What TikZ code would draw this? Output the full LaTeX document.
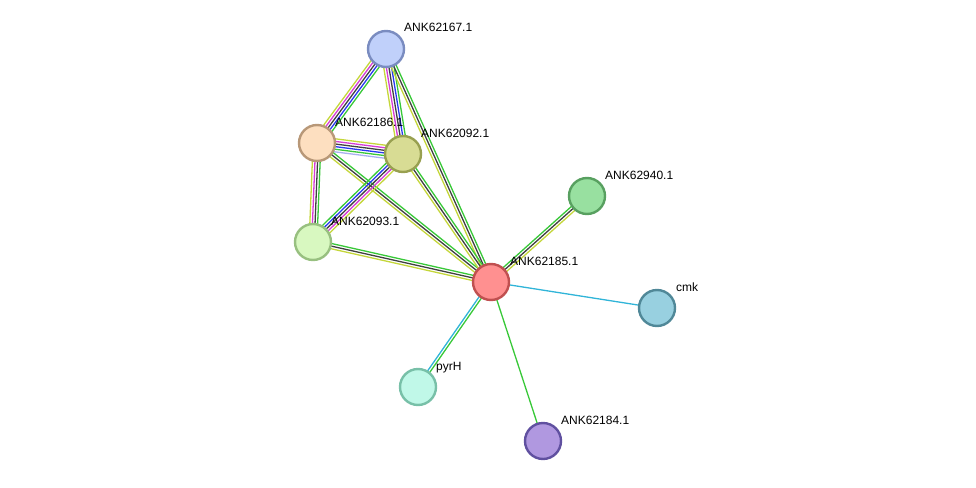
\documentclass[tikz,border=0pt]{standalone}
\usepackage{fontspec}
\setmainfont{Liberation Sans}
\usetikzlibrary{calc}
\pgfdeclarelayer{bg}
\pgfsetlayers{bg,main}
\definecolor{cY}{HTML}{C4D63A}
\definecolor{cM}{HTML}{D63CD6}
\definecolor{cK}{HTML}{404040}
\definecolor{cB}{HTML}{2838F0}
\definecolor{cG}{HTML}{38C838}
\definecolor{cL}{HTML}{A8B0F0}
\definecolor{cC}{HTML}{30B4D8}
\tikzset{
  prot/.style={circle, minimum size=36pt, inner sep=0pt, line width=2.4pt},
  lbl/.style={anchor=base west, font=\fontsize{12pt}{14pt}\selectfont, inner sep=0pt},
}
\newcommand\medge[3]{%
  \foreach \c [count=\i] in {#3} {\xdef\ncount{\i}}%
  \foreach \c [count=\i] in {#3} {%
    \pgfmathsetmacro\off{(\i-(\ncount+1)/2)*2.6}%
    \draw[\c, line width=1.3pt] ($(#1.center)!\off pt!90:(#2.center)$) -- ($(#2.center)!\off pt!-90:(#1.center)$);
  }}
\begin{document}
\begin{tikzpicture}[x=1pt,y=-1pt]
\useasboundingbox (0,0) rectangle (976,487);
\node[prot, fill={rgb,255:red,192;green,208;blue,250}, draw={rgb,255:red,122;green,140;blue,192}] (n167) at (386,49) {};
\node[prot, fill={rgb,255:red,253;green,223;blue,192}, draw={rgb,255:red,184;green,152;blue,120}] (n186) at (317,143) {};
\node[prot, fill={rgb,255:red,216;green,220;blue,148}, draw={rgb,255:red,152;green,160;blue,80}] (n092) at (403,154) {};
\node[prot, fill={rgb,255:red,216;green,248;blue,192}, draw={rgb,255:red,152;green,192;blue,128}] (n093) at (313,242) {};
\node[prot, fill={rgb,255:red,255;green,144;blue,144}, draw={rgb,255:red,192;green,80;blue,80}] (n185) at (491,282) {};
\node[prot, fill={rgb,255:red,152;green,224;blue,160}, draw={rgb,255:red,88;green,160;blue,96}] (n940) at (587,196) {};
\node[prot, fill={rgb,255:red,152;green,208;blue,224}, draw={rgb,255:red,80;green,136;blue,152}] (ncmk) at (657,308) {};
\node[prot, fill={rgb,255:red,192;green,248;blue,232}, draw={rgb,255:red,120;green,192;blue,168}] (npyr) at (418,387) {};
\node[prot, fill={rgb,255:red,176;green,152;blue,224}, draw={rgb,255:red,96;green,80;blue,160}] (n184) at (543,441) {};

\node[lbl] (l167) at ($(n167.center)+(18,-17)$) {ANK62167.1};
\node[lbl] (l186) at ($(n186.center)+(18,-17)$) {ANK62186.1};
\node[lbl] (l092) at ($(n092.center)+(18,-17)$) {ANK62092.1};
\node[lbl] (l093) at ($(n093.center)+(18,-17)$) {ANK62093.1};
\node[lbl] (l185) at ($(n185.center)+(19,-17)$) {ANK62185.1};
\node[lbl] (l940) at ($(n940.center)+(18,-17)$) {ANK62940.1};
\node[lbl] (lcmk) at ($(ncmk.center)+(19,-17)$) {cmk};
\node[lbl] (lpyr) at ($(npyr.center)+(18,-17)$) {pyrH};
\node[lbl] (l184) at ($(n184.center)+(18,-17)$) {ANK62184.1};

\begin{pgfonlayer}{bg}
\medge{n167}{n186}{cY,cM,cK,cB,cG}
\medge{n167}{n092}{cY,cM,cK,cB,cG}
\medge{n167}{n185}{cY,cK,cG}
\medge{n186}{n092}{cL,cG,cB,cK,cM,cY}
\medge{n186}{n093}{cY,cM,cK,cG}
\medge{n186}{n185}{cY,cK,cG}
\medge{n092}{n093}{cG,cB,cK,cM,cY}
\medge{n092}{n185}{cY,cK,cG}
\medge{n093}{n185}{cY,cK,cG}
\medge{n185}{n940}{cY,cK,cG}
\medge{n185}{ncmk}{cC}
\medge{n185}{npyr}{cC,cG}
\medge{n185}{n184}{cG}
\end{pgfonlayer}
\end{tikzpicture}
\end{document}
